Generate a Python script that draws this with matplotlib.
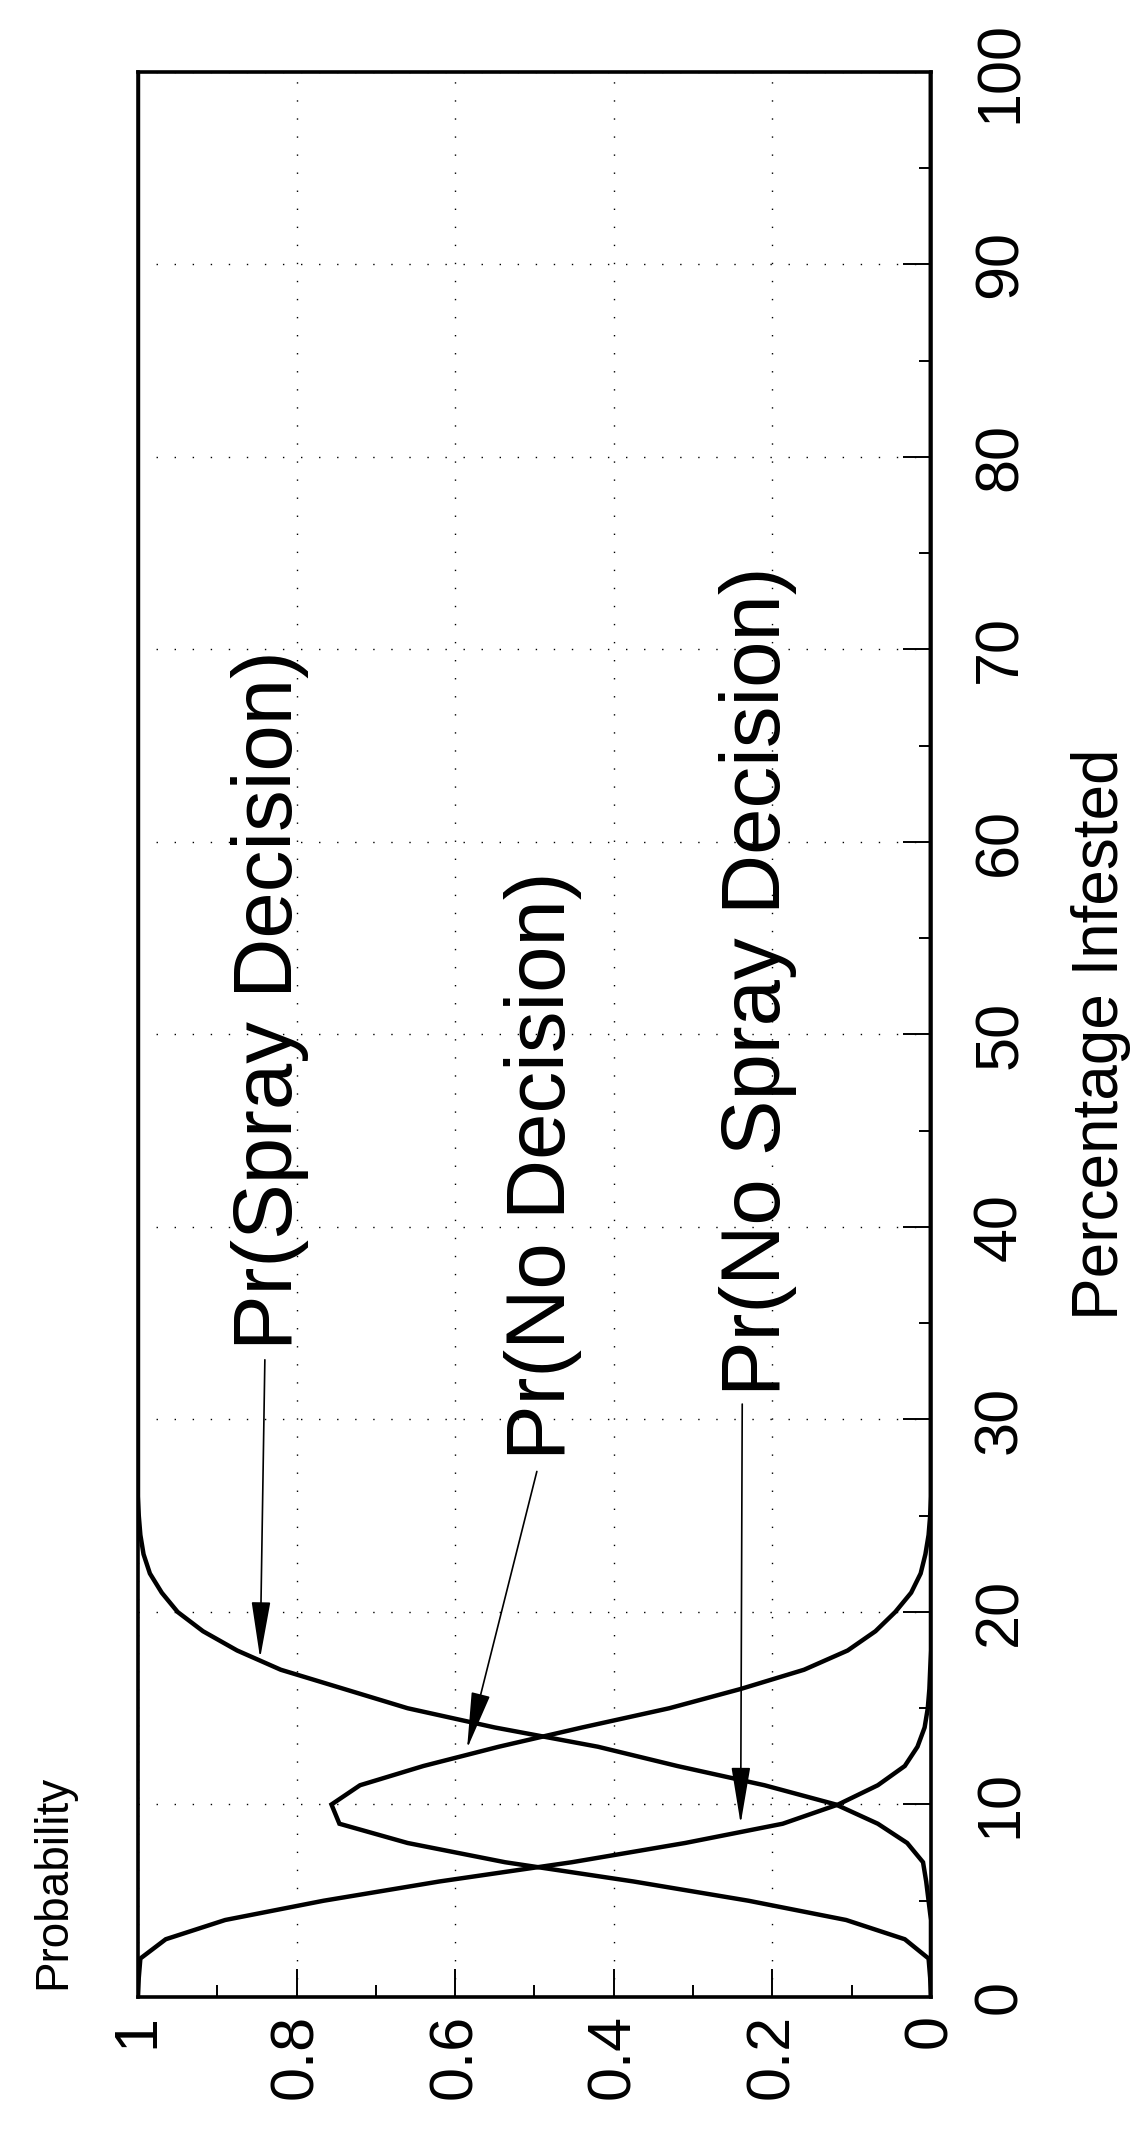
import numpy as np
import matplotlib
matplotlib.use("Agg")
from matplotlib import pyplot as plt

# ===============================
# data
# ===============================
pct = [0, 1, 2, 3, 4, 5, 6, 7, 8, 9, 10, 11, 12, 13, 14, 15, 16, 17, 18,
       19, 20, 21, 22, 23, 24, 25, 26, 100]

no_spray = [1.000, 0.999, 0.997, 0.965, 0.890, 0.766, 0.620, 0.453, 0.310,
            0.187, 0.117, 0.067, 0.033, 0.017, 0.008, 0.004, 0.002, 0.001,
            0.0, 0.0, 0.0, 0.0, 0.0, 0.0, 0.0, 0.0, 0.0, 0.0]

no_decision = [0.000, 0.001, 0.003, 0.033, 0.107, 0.230, 0.375, 0.537, 0.660,
               0.746, 0.756, 0.720, 0.640, 0.545, 0.440, 0.330, 0.240, 0.160,
               0.105, 0.070, 0.045, 0.025, 0.013, 0.007, 0.003, 0.001, 0.0, 0.0]

spray = [0.0, 0.0, 0.0, 0.0, 0.0, 0.003, 0.006, 0.010, 0.030, 0.067, 0.120,
         0.210, 0.320, 0.420, 0.550, 0.660, 0.740, 0.820, 0.875, 0.918, 0.950,
         0.970, 0.985, 0.993, 0.997, 0.999, 1.0, 1.0]

prob_ticks = [0, 0.2, 0.4, 0.6, 0.8, 1]
prob_labels = ["0", "0.2", "0.4", "0.6", "0.8", "1"]
pct_ticks = [0, 10, 20, 30, 40, 50, 60, 70, 80, 90, 100]

# label text, (text anchor prob, pct), arrow start, arrow tip
notes = [
    ("Pr(Spray Decision)", (0.806, 33.6), (0.840, 33.1), (0.846, 17.6)),
    ("Pr(No Decision)", (0.462, 27.9), (0.497, 27.3), (0.585, 12.9)),
    ("Pr(No Spray Decision)", (0.190, 31.2), (0.238, 30.8), (0.240, 9.0)),
]

# ===============================
# figure (drawn turned on its side)
# ===============================
plt.rcParams['font.family'] = ['Liberation Sans', 'DejaVu Sans']

fig = plt.figure(figsize=(11.32, 21.34), dpi=100)
ax = fig.add_axes([0.1219, 0.0642, 0.7005, 0.9021])

for s in (no_spray, no_decision, spray):
    ax.plot(s, pct, color='k', lw=3.2, solid_joinstyle='miter')

ax.set_xlim(1, 0)
ax.set_ylim(0, 100)

ax.set_xticks(prob_ticks)
ax.set_xticklabels(prob_labels)
ax.set_xticks(np.arange(0.1, 1.0, 0.2), minor=True)
ax.set_yticks(pct_ticks)
ax.set_yticks(np.arange(5, 100, 10), minor=True)

ax.yaxis.tick_right()
ax.yaxis.set_label_position('right')
ax.tick_params(axis='both', which='both', direction='in', colors='k',
               top=False, left=False, labelsize=44)
ax.tick_params(axis='x', which='both', pad=12)
ax.tick_params(axis='y', which='both', pad=30)
ax.tick_params(axis='both', which='major', length=20, width=1.4)
ax.tick_params(axis='both', which='minor', length=9, width=1.4)

for lab in ax.get_xticklabels():
    lab.set_rotation(90)
    lab.set_ha('center')
    lab.set_va('top')
for lab in ax.get_yticklabels():
    lab.set_rotation(90)
    lab.set_ha('left')
    lab.set_va('center')

ax.grid(True, which='major', linestyle=(0, (1, 12)), color='k', lw=1.0)
for sp in ax.spines.values():
    sp.set_linewidth(2.6)

ax.set_ylabel("Percentage Infested", fontsize=46, rotation=90, labelpad=30)

for text, pos, start, tip in notes:
    ax.text(pos[0], pos[1], text, fontsize=60, rotation=90,
            rotation_mode='anchor', ha='left', va='baseline')
    ax.annotate('', xy=tip, xytext=start,
                arrowprops=dict(arrowstyle='-|>,head_length=1.8,head_width=0.3',
                                mutation_scale=20, lw=1.2, color='k',
                                shrinkA=0, shrinkB=0))

fig.text(0.0574, 0.068, "Probability", fontsize=33, rotation=90,
         rotation_mode='anchor', ha='left', va='baseline')

plt.savefig("out.png", dpi=100)
